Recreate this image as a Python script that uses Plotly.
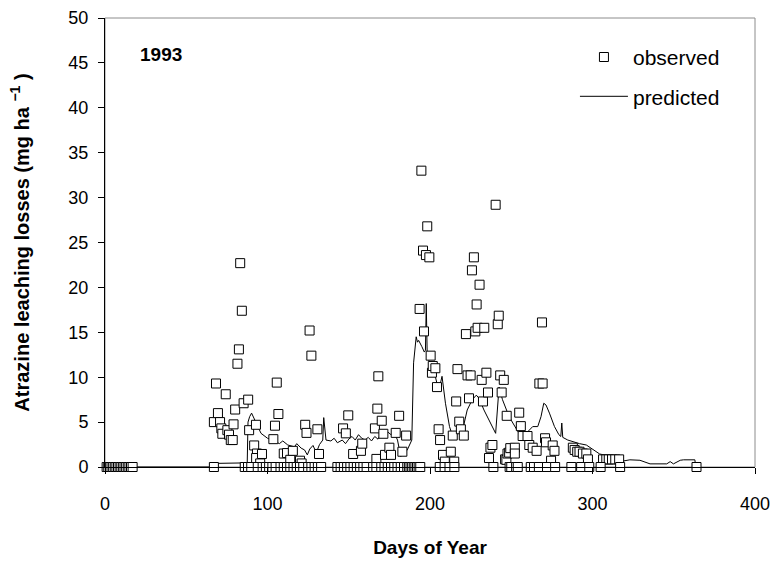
import plotly.graph_objects as go

# Observed atrazine leaching losses (mg/ha) by day of year, 1993
obs_day = [
    67.0, 68.3, 69.5, 70.8, 71.6, 72.2, 74.3, 75.3, 76.3, 77.4, 78.6, 79.1, 80.1,
    81.5, 82.4, 83.2, 84.2, 85.3, 88.1, 88.7, 91.8, 92.9, 93.5, 93.0, 95.5, 96.6,
    103.6, 104.6, 105.7, 106.7, 110.0, 112.0, 114.0, 115.6, 120.0, 121.0, 123.2,
    124.0, 125.9, 127.0, 130.7, 131.7, 146.5, 148.2, 149.7, 152.7, 157.5, 158.3,
    166.1, 167.6, 168.2, 167.0, 170.3, 171.3, 172.3, 175.0, 176.0, 178.9, 181.0,
    183.0, 185.3, 193.6, 194.7, 195.7, 196.3, 197.5, 198.3, 199.6, 200.4, 201.2,
    201.7, 203.3, 204.3, 205.3, 206.2, 208.0, 209.1, 212.8, 214.0, 214.9, 216.1,
    216.9, 218.0, 219.0, 220.8, 222.1, 223.1, 224.0, 225.0, 225.8, 227.0, 227.9,
    228.7, 229.3, 230.5, 231.8, 232.6, 233.4, 234.7, 235.7, 236.3, 237.2, 238.4,
    240.4, 241.7, 242.3, 243.2, 244.1, 245.4, 246.2, 247.0, 247.2, 247.7, 248.7,
    249.4, 252.2, 252.2, 254.9, 255.9, 257.0, 260.0, 261.1, 263.2, 265.6, 267.3,
    268.9, 269.3, 270.8, 271.4, 274.5, 275.5, 276.6, 287.9, 289.0, 290.6, 292.0,
    294.1, 296.2, 297.2, 306.5, 308.5, 310.0, 312.0, 314.0, 316.4,
]
obs_val = [
    5.0, 9.3, 6.0, 5.0, 4.3, 3.7, 8.1, 4.1, 3.6, 3.0, 3.0, 4.75, 6.4,
    11.5, 13.1, 22.7, 17.4, 7.1, 7.5, 4.1, 2.4, 4.7, 1.5, 1.0, 0.4, 1.45,
    3.1, 4.6, 9.4, 5.9, 1.5, 1.55, 0.8, 1.8, 0.7, 0.4, 4.7,
    3.8, 15.2, 12.4, 4.2, 1.45, 4.3, 3.75, 5.75, 1.45, 1.8, 2.6,
    4.3, 6.5, 10.1, 0.9, 5.15, 3.7, 1.35, 2.15, 1.35, 3.8, 5.7,
    1.7, 3.5, 17.6, 33.0, 24.1, 15.1, 23.6, 26.8, 23.35, 12.4, 10.5,
    11.25, 11.0, 8.9, 4.2, 3.0, 1.35, 0.6, 1.7, 3.5, 0.6, 7.3,
    10.9, 5.05, 4.2, 3.5, 14.8, 10.2, 7.65, 10.2, 21.9, 23.35, 15.1,
    18.1, 15.5, 20.3, 9.7, 7.3, 15.5, 10.5, 8.3, 1.0, 2.15, 2.45,
    29.2, 15.9, 16.85, 10.2, 8.3, 9.7, 0.85, 0.8, 5.7, 1.5, 1.6,
    2.1, 2.15, 1.5, 6.05, 4.55, 3.45, 3.45, 2.45, 2.15, 1.8, 9.3,
    16.1, 9.3, 3.2, 2.75, 0.7, 2.4, 1.8, 2.15, 1.9, 1.7, 1.7,
    1.5, 1.5, 0.85, 0.85, 0.85, 0.85, 0.85, 0.85, 0.85,
]

# Sampling days with no detectable loss
zero_day = [
    1, 2, 3, 4, 5, 6, 7, 8, 9, 10, 11, 12, 13, 14, 15, 16, 17,
    67, 86, 88, 90, 94, 97, 99, 101, 103, 105, 108, 110, 112, 114, 116, 118,
    120, 122, 125, 127, 129, 131, 133, 143, 145, 147, 149, 151, 153, 155, 157,
    159, 161, 165, 167, 170, 172, 174, 176, 178, 180, 182, 184, 186, 187, 188,
    189, 190, 191, 192, 193, 194, 206, 209, 212, 215, 239, 249, 250, 253, 254,
    262, 264, 267, 272, 277, 287, 293, 298, 305, 317, 364,
]

# Model-predicted daily losses (mg/ha)
pred_day = [
    0, 65, 67, 84, 86, 87.5, 88, 89, 90.2, 91.5, 92.9, 96, 100, 103.2, 107.3,
    109.4, 112.5, 116.6, 118, 120.7, 122.8, 124.5, 126, 128, 130, 132, 134,
    134.6, 136, 139, 141, 143, 146, 148, 150, 152, 154, 156, 158, 160, 162,
    164, 166, 168, 170, 172, 174, 176, 178, 180, 182, 184, 186, 188.8, 189.9,
    191.5, 192.3, 193, 194, 195, 196.5, 197.2, 197.7, 198.3, 200.2, 202.3,
    204.3, 206, 207.4, 209.5, 212, 213.6, 216.7, 219.8, 222.9, 226, 228.5,
    230.2, 233.2, 236.3, 239.4, 240.4, 242.5, 244.6, 248.7, 252.8, 255.9, 260,
    263.2, 266.3, 268.3, 270, 271.4, 273.5, 276.6, 279.3, 280.5, 281.1, 281.7,
    284.8, 287.9, 292, 296.2, 300.3, 304.4, 310.6, 316.8, 323, 329.2, 335.4,
    345.7, 347.8, 349.8, 354, 356, 363, 363.5,
]
pred_val = [
    0, 0, 0.4, 0.45, 0.2, 0.3, 5.0, 5.6, 6.0, 5.5, 4.85, 3.75, 3.2, 3.0, 2.6,
    2.9, 2.45, 2.25, 2.6, 2.1, 1.9, 1.35, 2.0, 2.4, 1.6, 2.5, 3.0,
    5.5, 3.0, 2.9, 3.2, 2.7, 3.0, 2.6, 3.1, 3.4, 3.0, 3.6, 3.2, 3.0, 3.3,
    2.9, 3.4, 3.1, 3.8, 3.5, 3.9, 3.6, 3.8, 3.0, 1.15, 1.5, 1.9, 3.0, 11.6,
    14.5, 13.9, 14.1, 13.8, 13.4, 12.8, 13.0, 18.2, 12.3, 11.5, 10.8,
    9.3, 9.0, 10.1, 7.1, 4.5, 3.6, 4.1, 3.9, 6.35, 7.5, 8.0,
    7.65, 6.35, 5.2, 4.1, 3.75, 8.9, 7.5, 5.6, 4.3, 3.4, 3.9,
    4.5, 4.5, 5.6, 7.1, 6.9, 6.0, 4.5, 3.6, 3.4, 4.9, 3.3,
    3.0, 2.8, 2.6, 2.45, 1.9, 1.45, 1.2, 0.6, 0.8, 0.75, 0.35,
    0.35, 0.6, 0.35, 0.75, 0.8, 0.8, 0,
]

x_ticks = [0, 100, 200, 300, 400]
y_ticks = [0, 5, 10, 15, 20, 25, 30, 35, 40, 45, 50]

FONT = "Liberation Sans, Arial, sans-serif"

fig = go.Figure()

fig.add_trace(go.Scatter(
    x=pred_day, y=pred_val, mode="lines", name="predicted",
    line=dict(color="black", width=1), legendgroup="p", legendrank=2,
))

all_day = obs_day + zero_day
all_val = obs_val + [0.0] * len(zero_day)
fig.add_trace(go.Scatter(
    x=all_day, y=all_val, mode="markers", name="observed",
    marker=dict(symbol="square", size=9, color="white",
                line=dict(color="black", width=1)),
    legendgroup="o", legendrank=1, cliponaxis=False,
))

fig.add_annotation(
    x=20, y=45.9, xref="x", yref="y", text="<b>1993</b>", showarrow=False,
    xanchor="left", yanchor="middle", font=dict(family=FONT, size=19, color="black"),
)

# Plot-area frame (grey), axes drawn in black on top of it
fig.add_shape(type="rect", xref="paper", yref="paper", x0=0, x1=1, y0=0, y1=1,
              line=dict(color="#8c8c8c", width=1), layer="below")

fig.update_layout(
    width=771, height=561,
    margin=dict(l=105, r=16, t=18, b=94, autoexpand=False),
    paper_bgcolor="white", plot_bgcolor="white",
    font=dict(family=FONT, size=18, color="black"),
    showlegend=True,
    legend=dict(
        x=0.723, y=0.958, xanchor="left", yanchor="top",
        bgcolor="rgba(0,0,0,0)", borderwidth=0, tracegroupgap=9,
        itemwidth=48,
        font=dict(family=FONT, size=21, color="black"),
    ),
    xaxis=dict(
        range=[0, 400], tickvals=x_ticks, ticktext=[str(v) for v in x_ticks],
        showline=True, linecolor="black", linewidth=1, automargin=False,
        ticks="outside", ticklen=6, tickcolor="black", ticklabelstandoff=14,
        ticklabeloverflow="allow",
        showgrid=False, zeroline=False,
        tickfont=dict(family=FONT, size=18),
        title=dict(text="<b>Days of Year</b>", standoff=28,
                   font=dict(family=FONT, size=19)),
    ),
    yaxis=dict(
        range=[0, 50], tickvals=y_ticks, ticktext=[str(v) for v in y_ticks],
        showline=True, linecolor="black", linewidth=1, automargin=False,
        ticks="outside", ticklen=6, tickcolor="black", ticklabelstandoff=6,
        showgrid=False, zeroline=False,
        tickfont=dict(family=FONT, size=18),
        title=dict(text="<b>Atrazine leaching losses (mg ha <sup>−1</sup> )</b>",
                   standoff=33, font=dict(family=FONT, size=20)),
    ),
)

fig.write_html("out.html")
